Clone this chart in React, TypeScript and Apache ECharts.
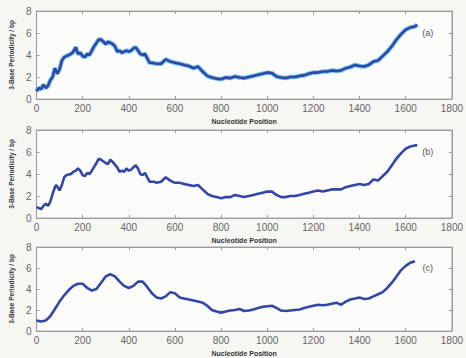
import React, { useEffect, useRef } from "react";
import * as echarts from "echarts";

const xTicks = { min: 0, max: 1800, interval: 200 };
const yTicks = { min: 0, max: 8, interval: 2 };
const panelLabels = ["(a)", "(b)", "(c)"];
const xAxisTitle = "Nucleotide Position";
const yAxisTitle = "3-Base Periodicity / bp";

const posA = [0,10,20,30,40,50,60,70,80,90,100,110,120,130,140,150,160,170,180,190,200,210,220,230,240,250,260,270,280,290,300,310,320,330,340,350,360,370,380,390,400,410,420,430,440,450,460,470,480,490,500,520,540,560,580,600,620,640,660,680,700,720,740,760,780,800,820,840,860,880,900,920,940,960,980,1000,1020,1040,1060,1080,1100,1120,1140,1160,1180,1200,1220,1240,1260,1280,1300,1320,1340,1360,1380,1400,1420,1440,1460,1480,1500,1520,1540,1560,1580,1600,1620,1640,1650];
const valA = [0.7,1.0,0.9,1.3,1.0,1.2,1.7,2.0,2.8,2.3,2.7,3.5,3.8,3.9,4.0,4.1,4.3,4.7,4.1,4.2,3.9,3.8,4.1,4.0,4.4,4.8,5.1,5.4,5.4,5.2,5.0,5.2,5.1,5.0,4.8,4.3,4.4,4.2,4.3,4.4,4.3,4.4,4.6,4.7,4.4,4.1,4.0,4.1,3.7,3.3,3.3,3.2,3.2,3.6,3.4,3.3,3.2,3.1,3.0,2.8,2.95,2.5,2.1,1.95,1.85,1.8,1.95,1.9,2.05,1.95,1.9,2.0,2.1,2.2,2.3,2.4,2.35,2.05,1.95,1.9,2.0,2.0,2.1,2.15,2.3,2.4,2.4,2.5,2.5,2.6,2.55,2.6,2.8,2.9,3.1,3.0,2.95,3.1,3.4,3.5,3.9,4.3,4.8,5.4,5.9,6.3,6.5,6.6,6.75];

const posB = [0,10,20,30,40,50,60,70,80,85,95,100,110,120,130,150,160,170,180,190,200,210,220,230,240,260,270,280,300,310,320,330,350,360,370,380,390,400,410,420,430,440,450,460,470,480,490,510,520,540,560,580,600,620,640,660,680,700,720,740,760,780,800,820,840,860,880,900,920,940,960,980,1000,1020,1040,1060,1080,1100,1120,1140,1160,1180,1200,1220,1240,1260,1280,1300,1320,1340,1360,1380,1400,1420,1440,1460,1480,1500,1520,1540,1560,1580,1600,1620,1640,1650];
const valB = [1.0,0.9,0.8,1.1,1.3,1.1,1.5,2.2,2.8,3.0,2.7,2.5,3.0,3.7,3.9,4.0,4.2,4.3,4.5,4.3,3.9,3.8,4.1,4.0,4.3,5.0,5.4,5.3,5.0,4.9,5.3,5.1,4.6,4.2,4.3,4.2,4.5,4.3,4.4,4.6,4.8,4.5,4.0,3.9,4.1,3.7,3.3,3.3,3.2,3.3,3.7,3.4,3.2,3.2,3.1,3.0,2.9,3.0,2.6,2.2,2.0,1.9,1.8,1.9,1.9,2.1,2.0,1.9,2.0,2.1,2.2,2.3,2.4,2.4,2.1,1.9,1.9,2.0,2.0,2.1,2.2,2.3,2.4,2.5,2.4,2.5,2.6,2.6,2.6,2.8,2.9,3.0,3.1,3.0,3.1,3.5,3.4,3.8,4.2,4.8,5.4,5.9,6.3,6.5,6.6,6.6];

const posC = [0,20,40,60,80,100,120,140,160,180,200,220,240,260,280,300,320,340,360,380,400,420,440,460,480,500,520,540,560,580,600,620,640,660,680,700,720,740,760,780,800,820,840,860,880,900,920,940,960,980,1000,1020,1040,1060,1080,1100,1120,1140,1160,1180,1200,1220,1240,1260,1280,1300,1320,1340,1360,1380,1400,1420,1440,1460,1480,1500,1520,1540,1560,1580,1600,1620,1640];
const valC = [1.0,0.9,1.0,1.4,2.1,2.8,3.4,3.9,4.3,4.5,4.5,4.1,3.85,4.0,4.6,5.2,5.4,5.2,4.7,4.3,4.1,4.3,4.7,4.7,4.2,3.6,3.2,3.1,3.3,3.7,3.6,3.2,3.1,3.0,2.9,2.8,2.7,2.4,2.0,1.85,1.75,1.85,1.95,2.0,2.1,1.9,1.95,2.05,2.2,2.3,2.35,2.4,2.2,1.95,1.9,1.95,2.0,2.05,2.2,2.3,2.4,2.5,2.45,2.5,2.6,2.7,2.5,2.8,3.0,3.1,3.2,3.05,3.1,3.3,3.5,3.7,4.1,4.6,5.2,5.8,6.2,6.5,6.65];

const panels = [
  { pos: posA, val: valA, halo: true },
  { pos: posB, val: valB, halo: false },
  { pos: posC, val: valC, halo: false },
];

const gridTops = [11, 130, 247];

export default function App() {
  const ref = useRef<HTMLDivElement>(null);
  useEffect(() => {
    if (!ref.current) return;
    const chart = echarts.init(ref.current, undefined, { renderer: "svg" });
    const grids: any[] = [];
    const xAxes: any[] = [];
    const yAxes: any[] = [];
    const series: any[] = [];
    const axisColor = "#9a9a9a";
    const labelColor = "#666";
    const plain = (v: number) => String(v);
    panels.forEach((p, i) => {
      grids.push({ left: 29, right: 11, top: gridTops[i], height: 88, show: true, borderColor: "#b0b0b0", borderWidth: 1, backgroundColor: "#fbfbfa" });
      xAxes.push({
        type: "value", gridIndex: i, ...xTicks, position: "bottom",
        name: xAxisTitle, nameLocation: "middle", nameGap: 19,
        nameTextStyle: { fontSize: 7, fontWeight: "bold", color: "#333", fontFamily: "Liberation Sans" },
        axisLine: { show: true, onZero: false, lineStyle: { color: axisColor } },
        axisTick: { show: true, inside: true, length: 3, lineStyle: { color: axisColor } },
        axisLabel: { fontSize: 10, color: labelColor, margin: 4, fontFamily: "Liberation Sans", formatter: plain },
        splitLine: { show: false },
      });
      xAxes.push({
        type: "value", gridIndex: i, ...xTicks, position: "top",
        axisLine: { show: true, onZero: false, lineStyle: { color: axisColor } },
        axisTick: { show: true, inside: true, length: 3, lineStyle: { color: axisColor } },
        axisLabel: { show: false }, splitLine: { show: false },
      });
      yAxes.push({
        type: "value", gridIndex: i, ...yTicks, position: "left",
        name: yAxisTitle, nameLocation: "middle", nameGap: 16,
        nameTextStyle: { fontSize: 6.5, fontWeight: "bold", color: "#333", fontFamily: "Liberation Sans" },
        axisLine: { show: true, onZero: false, lineStyle: { color: axisColor } },
        axisTick: { show: true, inside: true, length: 3, lineStyle: { color: axisColor } },
        axisLabel: { fontSize: 10, color: labelColor, margin: 5, fontFamily: "Liberation Sans", formatter: plain },
        splitLine: { show: false },
      });
      yAxes.push({
        type: "value", gridIndex: i, ...yTicks, position: "right",
        axisLine: { show: true, onZero: false, lineStyle: { color: axisColor } },
        axisTick: { show: true, inside: true, length: 3, lineStyle: { color: axisColor } },
        axisLabel: { show: false }, splitLine: { show: false },
      });
      const data = p.pos.map((x, k) => [x, p.val[k]]);
      if (p.halo) {
        series.push({
          type: "line", xAxisIndex: i * 2, yAxisIndex: i * 2, data, symbol: "none",
          lineStyle: { color: "#6cc8ee", width: 4.5 }, silent: true,
        });
      }
      series.push({
        type: "line", xAxisIndex: i * 2, yAxisIndex: i * 2, data, symbol: "none",
        lineStyle: { color: "#3346a8", width: 2.6 },
        markPoint: {
          symbol: "circle",
          symbolSize: 1,
          itemStyle: { color: "rgba(0,0,0,0)" },
          data: [{ coord: [1695, 6], value: panelLabels[i] }],
          label: { show: true, position: "inside", formatter: panelLabels[i], color: "#555", fontSize: 9, fontFamily: "Liberation Sans" },
        },
      });
    });
    chart.setOption({
      animation: false,
      backgroundColor: "#f6f6f3",
      grid: grids,
      xAxis: xAxes,
      yAxis: yAxes,
      series,
    });
    return () => chart.dispose();
  }, []);
  return <div ref={ref} style={{ position: "fixed", left: 0, top: 0, width: 466, height: 358 }} />;
}
